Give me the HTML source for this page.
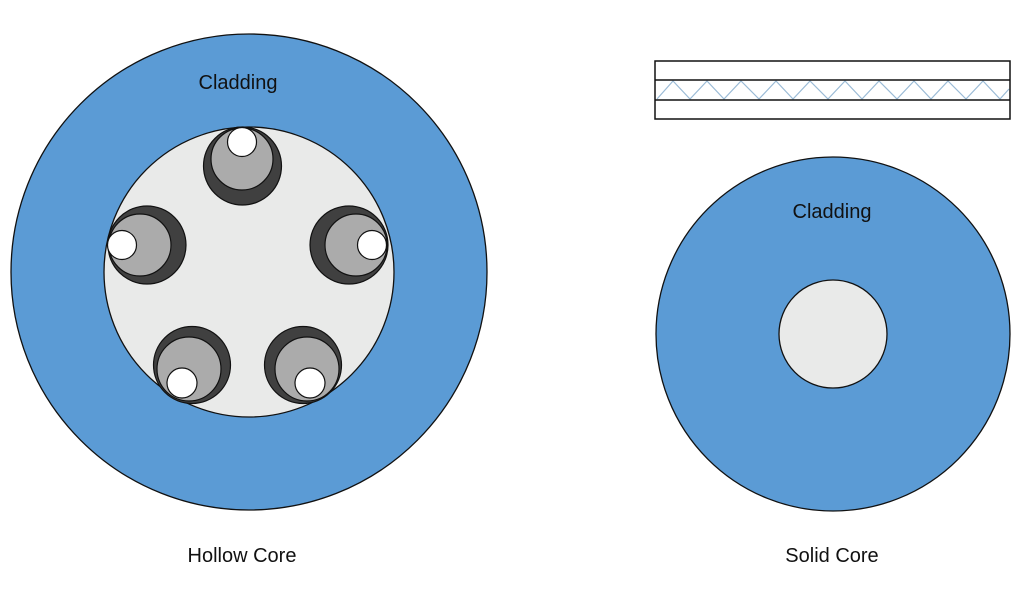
<!DOCTYPE html>
<html><head><meta charset="utf-8"><style>body{margin:0;background:#fff}svg{display:block}</style></head><body>
<svg width="1024" height="594" viewBox="0 0 1024 594" xmlns="http://www.w3.org/2000/svg" font-family="Liberation Sans, sans-serif">
<circle cx="249" cy="272" r="238" fill="#5b9bd5" stroke="#111" stroke-width="1.3"/>
<circle cx="249" cy="272" r="145" fill="#e9eae9" stroke="#111" stroke-width="1.3"/>
<g stroke="#111" stroke-width="1.2">
<circle cx="242.5" cy="166" r="39" fill="#404040"/><circle cx="242" cy="159" r="31" fill="#ababab"/><circle cx="242" cy="142" r="14.5" fill="#fff"/>
<circle cx="147" cy="245" r="39" fill="#404040"/><circle cx="140" cy="245" r="31" fill="#ababab"/><circle cx="122" cy="245" r="14.5" fill="#fff"/>
<circle cx="349" cy="245" r="39" fill="#404040"/><circle cx="356" cy="245" r="31" fill="#ababab"/><circle cx="372" cy="245" r="14.5" fill="#fff"/>
<circle cx="192" cy="365" r="38.5" fill="#404040"/><circle cx="189" cy="369" r="32" fill="#ababab"/><circle cx="182" cy="383" r="15" fill="#fff"/>
<circle cx="303" cy="365" r="38.5" fill="#404040"/><circle cx="307" cy="369" r="32" fill="#ababab"/><circle cx="310" cy="383" r="15" fill="#fff"/>
</g>
<text x="238" y="89" font-size="20" text-anchor="middle" fill="#111">Cladding</text>
<text x="242" y="562" font-size="20" text-anchor="middle" fill="#111">Hollow Core</text>
<circle cx="833" cy="334" r="177" fill="#5b9bd5" stroke="#111" stroke-width="1.3"/>
<circle cx="833" cy="334" r="54" fill="#e9eae9" stroke="#111" stroke-width="1.3"/>
<text x="832" y="218" font-size="20" text-anchor="middle" fill="#111">Cladding</text>
<text x="832" y="562" font-size="20" text-anchor="middle" fill="#111">Solid Core</text>
<polyline fill="none" stroke="#9bbbd6" stroke-width="1.2" points="657,99 673,81 690,99 707,81 724,99 741,81 759,99 776,81 793,99 810,81 828,99 845,81 862,99 879,81 897,99 914,81 931,99 948,81 966,99 983,81 1000,99 1009,89"/>
<rect x="655" y="61" width="355" height="58" fill="none" stroke="#111" stroke-width="1.5"/>
<line x1="655" y1="80" x2="1010" y2="80" stroke="#111" stroke-width="1.5"/>
<line x1="655" y1="100" x2="1010" y2="100" stroke="#111" stroke-width="1.5"/>
</svg>
</body></html>
